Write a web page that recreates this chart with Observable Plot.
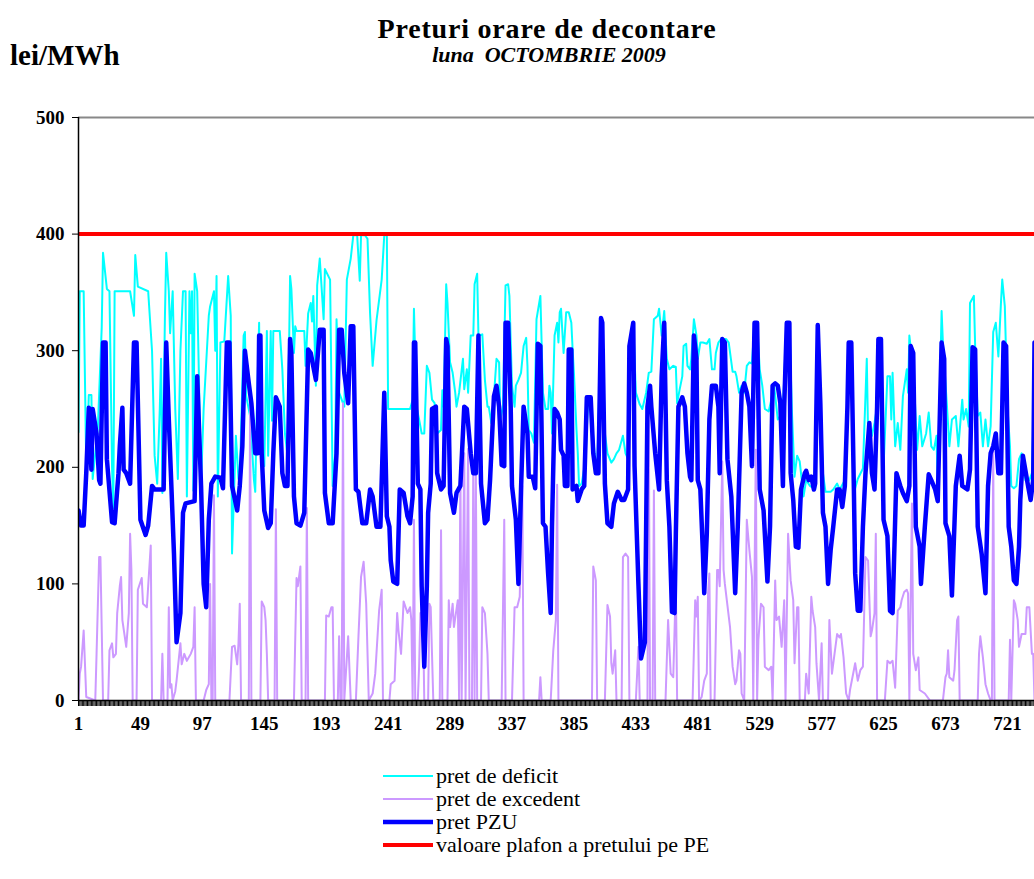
<!DOCTYPE html>
<html><head><meta charset="utf-8">
<script src="https://cdn.jsdelivr.net/npm/d3@7"></script>
<script src="https://cdn.jsdelivr.net/npm/@observablehq/plot@0.6"></script>
<style>
body{margin:0;background:#fff;}
#wrap{position:relative;width:1034px;height:879px;overflow:hidden;font-family:'Liberation Serif','Times New Roman',serif;color:#000;}
.t{position:absolute;white-space:nowrap;}
#chart{position:absolute;left:0;top:0;}
#legend{position:absolute;left:0;top:760px;}
#legend text{font-family:'Liberation Serif','Times New Roman',serif;}
</style></head><body><div id="wrap">
<div class="t" style="left:0;width:1094px;text-align:center;top:13px;font-size:28px;font-weight:bold;letter-spacing:0.8px;">Preturi orare de decontare</div>
<div class="t" style="left:0;width:1098px;text-align:center;top:42px;font-size:22px;font-weight:bold;font-style:italic;">luna&nbsp;&nbsp;OCTOMBRIE 2009</div>
<div class="t" style="left:10px;top:39px;font-size:29px;font-weight:bold;">lei/MWh</div>
<div id="chart"></div>
<div id="legend"></div>
</div>
<script>
// hour index, value (lei/MWh)
const pretDeficit = [[1,230],[2,351],[5,351],[7,200],[9,262],[11,262],[12,190],[16,234],[19,320],[20,384],[23,353],[25,351],[27,200],[28,165],[29,351],[41,351],[44,330],[45,382],[47,355],[55,351],[58,300],[60,210],[62,186],[64,250],[65,293],[66,178],[68,330],[69,384],[71,351],[72,315],[74,351],[76,250],[78,190],[80,300],[82,351],[84,351],[85,175],[87,351],[88,315],[89,351],[90,180],[91,366],[93,351],[96,186],[98,250],[102,330],[103,338],[106,351],[107,300],[108,364],[109,175],[111,307],[114,308],[117,364],[119,330],[120,126],[123,227],[125,190],
[126,190],[129,313],[130,316],[131,261],[134,244],[137,189],[138,179],[139,240],[141,324],[142,212],[145,201],[147,317],[148,210],[150,317],[151,240],[152,317],[157,317],[159,284],[161,229],[163,210],[165,364],[166,353],[168,298],[169,321],[170,317],[176,317],[177,287],[179,332],[181,341],[182,325],[183,347],[185,270],[186,356],[188,379],[191,327],[192,370],[196,361],[198,184],[200,212],[201,327],[203,264],[207,252],[209,361],[212,379],[214,399],[217,399],[219,360],[220,399],[223,399],[225,396],[227,332],[229,287],[232,326],[236,361],[238,399],[240,399],[241,250],[258,250],
[260,258],[261,336],[263,252],[265,241],[267,229],[269,229],[271,287],[273,281],[275,258],[277,255],[279,229],[282,232],[283,266],[284,252],[286,357],[287,341],[289,290],[291,281],[293,264],[294,252],[296,264],[299,293],[300,267],[302,284],[303,264],[305,313],[307,313],[308,357],[310,366],[311,313],[314,314],[316,275],[318,252],[319,252],[321,238],[323,261],[325,293],[327,290],[328,241],[330,252],[332,356],[334,357],[335,347],[337,270],[339,252],[340,270],[342,275],[344,281],[346,304],[348,311],[349,287],[350,232],[352,229],[354,221],[356,327],[359,347],[361,264],[363,250],[365,250],[366,270],[367,264],[368,229],[370,313],[372,324],
[373,307],[374,333],[375,336],[377,298],[379,333],[381,333],[383,324],[384,301],[385,281],[387,232],[388,212],[389,184],[391,186],[393,199],[394,207],[396,258],[398,252],[401,212],[403,195],[406,328],[407,324],[409,229],[411,212],[414,204],[416,207],[418,212],[420,215],[423,227],[425,212],[427,207],[429,304],[431,324],[433,264],[436,254],[438,250],[441,264],[443,281],[445,282],[447,327],[450,330],[451,336],[453,313],[455,334],[457,293],[459,284],[462,287],[464,286],[465,255],[467,267],[469,278],[470,304],[472,306],[473,287],[475,284],[476,293],[478,327],[480,313],[481,293],[483,307],[485,307],[488,306],[490,310],[492,284],[494,284],[495,298],[497,307],
[499,310],[503,310],[505,307],[508,282],[510,282],[511,278],[513,264],[515,270],[517,264],[519,287],[521,290],[523,289],[525,324],[527,324],[529,284],[531,270],[533,250],[536,248],[538,258],[540,272],[543,241],[545,244],[547,252],[550,324],[552,324],[554,247],[556,192],[558,210],[560,205],[563,175],[565,189],[568,184],[572,181],[574,322],[576,255],[578,195],[580,179],[584,179],[586,181],[589,186],[591,181],[595,189],[597,252],[598,307],[600,307],[602,178],[605,190],[609,199],[612,293],[613,230],[616,227],[618,238],[620,252],
[621,310],[623,310],[625,201],[628,278],[630,278],[631,241],[632,281],[634,218],[636,238],[638,215],[640,261],[643,284],[644,264],[645,313],[647,293],[649,264],[651,215],[652,229],[653,244],[655,218],[658,229],[660,247],[662,218],[664,215],[666,227],[667,185],[670,334],[671,307],[674,255],[676,218],[678,241],[681,244],[683,218],[686,258],[687,241],[689,250],[691,235],[692,341],[695,347],[696,304],[698,244],[700,247],[702,218],[704,241],[706,218],[708,235],[710,316],[712,324],[714,295],[716,341],[717,361],[719,338],[721,252],[723,218],[724,184],[726,182],[728,184],[730,207],[732,212],[735,189],[738,189],[740,195],[742,270],[744,307]];

const pretExcedent = [[1,0],[2,23],[3,29],[5,60],[7,3],[14,0],[15,40],[17,123],[18,123],[20,0],[24,0],[25,43],[27,49],[28,37],[30,40],[31,75],[33,98],[34,106],[35,69],[38,46],[40,75],[41,143],[42,112],[43,0],[46,0],[47,95],[50,105],[51,83],[54,80],[55,98],[57,133],[58,0],[65,0],[66,40],[67,0],[70,0],[71,80],[72,11],[73,14],[74,0],[76,8],[77,17],[80,49],[81,31],[83,40],[85,34],[88,40],[90,46],[91,80],[92,0],[98,0],[100,9],[102,14],[103,100],[104,0],[105,0],[106,176],[107,0],[118,0],[120,46],[122,47],[124,31],[125,49],
[126,83],[127,0],[133,0],[134,255],[135,0],[142,0],[143,85],[145,80],[146,69],[147,40],[148,0],[153,0],[154,164],[155,0],[168,0],[170,105],[171,98],[173,115],[174,0],[177,0],[178,165],[179,0],[192,0],[193,73],[195,72],[197,80],[198,80],[199,0],[202,0],[203,55],[204,0],[205,0],[206,255],[207,0],[210,55],[212,0],[216,0],[218,55],[220,106],[222,119],[224,83],[226,0],[229,6],[231,23],[234,77],[236,95],[237,0],[242,0],[243,14],[246,17],[248,75],
[249,60],[251,40],[253,85],[256,75],[258,80],[259,69],[260,0],[261,155],[262,0],[264,0],[265,29],[266,75],[268,75],[269,0],[272,0],[273,83],[274,80],[276,0],[281,0],[282,146],[283,0],[287,0],[288,86],[289,63],[291,83],[292,63],[295,86],[296,0],[297,200],[298,0],[300,212],[301,0],[303,216],[304,0],[306,0],[307,205],[308,0],[309,196],[310,0],[313,0],[314,80],[316,75],[318,40],[319,0],[329,0],[331,155],[332,0],[337,0],[339,80],[341,80],[343,89],[345,184],[346,0],[358,0],[359,20],[360,0],[367,0],[369,43],[371,69],[372,185],[373,0],
[399,0],[400,115],[402,103],[403,0],[409,0],[411,82],[413,72],[414,32],[415,23],[417,43],[418,0],[422,0],[423,123],[425,126],[427,123],[428,0],[433,0],[435,46],[436,0],[442,0],[443,252],[444,0],[446,0],[447,180],[448,0],[456,0],[458,69],[460,23],[462,20],[464,100],[465,0],[477,0],[479,86],[480,72],[481,89],[482,0],[484,3],[486,17],[488,23],[489,92],[490,109],[491,0],[494,0],[496,112],
[497,112],[498,98],[500,205],[501,112],[502,100],[506,63],[508,29],[510,14],[511,17],[513,43],[514,40],[515,6],[517,0],[519,155],[521,129],[523,106],[524,0],[526,215],[527,0],[528,52],[530,83],[532,80],[533,29],[536,26],[538,29],[539,0],[541,103],[542,69],[544,72],[546,46],[548,86],[549,0],[551,143],[553,103],[555,86],[556,32],[558,80],[559,80],[560,0],[564,0],[565,23],[567,6],[569,89],[570,77],[572,63],[573,32],[575,0],[577,49],[578,0],[582,0],[583,69],[585,23],[587,40],[589,57],[591,54],[592,57],[594,37],[596,6],[598,0],[599,9],[603,32],[605,17],[607,26],[609,29],[611,123],[613,120],[615,55],[616,60],[618,75],[619,143],[620,0],
[626,0],[628,34],[630,32],[632,34],[634,11],[636,77],[638,80],[639,86],[641,93],[643,95],[644,92],[645,0],[647,169],[648,40],[650,26],[652,37],[653,9],[657,6],[661,0],[671,0],[673,20],[674,23],[675,43],[676,20],[679,17],[680,26],[682,69],[683,72],[684,0],[698,0],[699,40],[700,55],[702,37],[704,14],[706,6],[708,0],[709,0],[710,215],[711,0],[722,0],[723,52],[724,0],[726,86],[727,83],[729,69],[730,46],[732,57],[735,57],[736,80],[738,80],[740,40],[741,40],[742,0],[744,0]];

const pretPZU = [[1,163],[3,150],[5,150],[7,195],[9,251],[11,198],[12,250],[15,229],[17,189],[18,186],[20,307],[22,307],[23,207],[27,153],[29,152],[32,195],[33,218],[35,251],[36,198],[38,195],[41,186],[44,307],[46,307],[49,155],[53,142],[55,150],[58,184],[60,181],[67,181],[69,307],[71,241],[75,126],[77,50],[80,75],[82,161],[84,169],[91,171],[93,278],[96,184],[98,100],[100,80],[102,155],[104,186],[107,192],[111,191],[113,182],[116,307],[118,307],[120,184],[124,163],
[126,184],[128,218],[130,300],[133,272],[135,255],[138,212],[140,212],[141,313],[142,313],[143,212],[145,163],[148,148],[150,152],[152,212],[154,260],[157,252],[159,195],[161,184],[163,184],[165,310],[166,298],[168,175],[170,152],[173,150],[176,161],[179,301],[181,298],[185,275],[188,318],[191,318],[192,178],[195,152],[198,152],[201,212],[203,318],[205,318],[207,281],[210,255],[212,321],[214,321],[216,181],[218,179],[221,152],[224,152],[227,181],[229,175],[232,149],[235,149],[238,264],[240,158],[242,149],[243,120],[245,102],[248,100],
[250,181],[253,178],[256,158],[258,152],[260,175],[261,307],[262,307],[264,186],[266,181],[267,98],[269,29],[271,98],[272,161],[274,186],[275,250],[278,252],[279,195],[282,181],[284,184],[286,310],[287,304],[289,178],[292,161],[294,178],[297,184],[300,252],[302,250],[305,212],[307,195],[309,195],[311,313],[313,186],[316,152],[318,155],[320,189],[323,261],[325,270],[327,252],[329,202],[331,201],[332,324],[334,324],[336,252],[337,184],[340,155],[342,100],[344,181],[346,252],[349,229],[350,192],[353,192],[355,182],[357,306],[359,304],[361,152],[363,149],[365,109],[367,75],[368,149],[370,250],[372,247],
[374,241],[375,215],[377,210],[378,184],[380,184],[381,301],[383,301],[384,181],[387,184],[388,171],[391,181],[393,184],[395,260],[398,260],[400,212],[402,195],[404,195],[406,328],[407,324],[409,186],[411,152],[414,149],[416,169],[419,179],[422,172],[424,172],[427,181],[428,304],[431,324],[432,201],[435,100],[437,36],[440,50],[442,252],[444,270],[445,252],[448,212],[451,181],[453,278],[455,324],[457,189],[459,149],[461,76],[463,75],[464,143],[466,252],[469,260],[471,252],[473,212],[475,192],[476,189],[478,313],[480,293],[481,189],[483,181],[485,126],[486,92],[488,143],[490,241],[492,270],[495,270],[497,252],[498,195],
[500,310],[502,307],[504,207],[507,175],[510,92],[512,149],[515,264],[517,272],[519,264],[521,252],[523,201],[525,324],[527,324],[529,181],[532,163],[535,102],[537,149],[539,270],[541,272],[543,270],[545,255],[547,184],[548,252],[550,324],[552,324],[553,195],[555,172],[557,132],[559,131],[561,181],[564,195],[565,197],[567,189],[569,192],[571,181],[572,186],[574,322],[576,255],[578,161],[580,149],[582,100],[584,129],[586,149],[589,181],[591,181],[593,166],[595,184],[597,252],[598,307],[600,307],[602,181],[603,109],[605,77],[607,77],[609,149],[611,195],[614,238],[616,195],[618,181],[620,252],
[621,310],[623,310],[625,155],[628,141],[630,77],[632,75],[634,155],[635,195],[638,184],[640,178],[643,171],[645,184],[646,304],[648,298],[650,149],[653,132],[654,100],[657,149],[660,194],[662,189],[665,181],[667,171],[670,307],[672,293],[673,152],[676,141],[678,90],[681,184],[684,210],[686,184],[690,181],[692,198],[694,303],[696,301],[698,149],[701,126],[704,92],[706,184],[708,212],[710,218],[712,229],[714,195],[716,195],[718,307],[720,304],[722,149],[724,132],[726,103],[728,100],[730,132],[731,172],[733,210],[737,184],[739,172],[741,189],[742,307],[744,307]];

const valoarePlafon = 400;
const yTicks = [0, 100, 200, 300, 400, 500];
const xLabels = [1, 49, 97, 145, 193, 241, 289, 337, 385, 433, 481, 529, 577, 625, 673, 721];
const hourCount = 744;
const seriesNames = ["pret de deficit", "pret de excedent", "pret PZU", "valoare plafon a pretului pe PE"];
const seriesColors = ["#00FFFF", "#CC99FF", "#0000FF", "#FF0000"];
const seriesWidths = [2, 2, 4.5, 4];

const allHours = d3.range(1, hourCount + 1);
const F = "'Liberation Serif', 'Times New Roman', serif";

const chart = Plot.plot({
  width: 1034, height: 760,
  marginTop: 117, marginBottom: 60, marginLeft: 78, marginRight: 0,
  x: {domain: [1, 742], axis: null},
  y: {domain: [0, 500], axis: null},
  style: {fontFamily: F, background: "transparent", overflow: "hidden"},
  marks: [
    Plot.ruleY([500], {stroke: "#888888", strokeWidth: 2}),
    Plot.line(pretDeficit, {x: d => d[0], y: d => d[1], stroke: seriesColors[0], strokeWidth: seriesWidths[0], clip: true}),
    Plot.line(pretExcedent, {x: d => d[0], y: d => d[1], stroke: seriesColors[1], strokeWidth: seriesWidths[1], clip: true}),
    Plot.line(pretPZU, {x: d => d[0], y: d => d[1], stroke: seriesColors[2], strokeWidth: seriesWidths[2], strokeLinejoin: "round", clip: true}),
    Plot.ruleY([valoarePlafon], {stroke: seriesColors[3], strokeWidth: 4}),
    Plot.ruleX([1], {y1: 0, y2: 500, stroke: "#000", strokeWidth: 1.5}),
    Plot.ruleY([0], {stroke: "#000", strokeWidth: 1.5}),
    Plot.axisY({ticks: yTicks, tickSize: 6, tickPadding: 8, fontSize: 19, fontWeight: "bold", tickFormat: d => String(d), label: null, stroke: "#000"}),
    Plot.axisX({ticks: allHours, tickSize: 6, tickFormat: () => "", label: null, stroke: "#000", strokeWidth: 1}),
    Plot.axisX({ticks: xLabels, tickSize: 0, tickPadding: 16, fontSize: 19, fontWeight: "bold", tickFormat: d => String(d), label: null})
  ]
});
document.getElementById("chart").appendChild(chart);

// legend
const lg = d3.select("#legend").append("svg").attr("width", 1034).attr("height", 110);
seriesNames.forEach((name, i) => {
  const y = 16 + i * 23;
  lg.append("line").attr("x1", 383).attr("x2", 433).attr("y1", y).attr("y2", y)
    .attr("stroke", seriesColors[i]).attr("stroke-width", seriesWidths[i]);
  lg.append("text").attr("x", 436).attr("y", y).attr("dy", "0.32em")
    .style("font-family", F).attr("font-size", 22).text(name);
});
</script>
</body></html>
